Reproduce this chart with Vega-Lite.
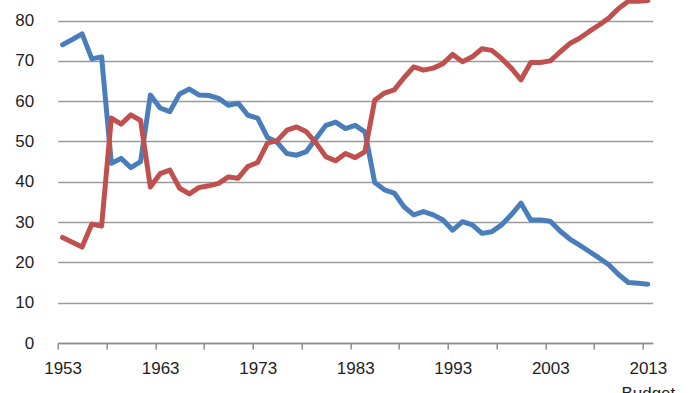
{
  "$schema": "https://vega.github.io/schema/vega-lite/v6.json",
  "width": 595,
  "height": 343,
  "autosize": {"type": "none"},
  "padding": {"left": 57.7, "top": 0, "right": 47.3, "bottom": 50},
  "background": "white",
  "config": {
    "view": {"stroke": null},
    "axis": {"labelFont": "Liberation Sans", "labelFontSize": 17, "labelColor": "#1e1e24"}
  },
  "data": {
    "values": [
      {"year": 1953, "series": "A", "value": 74.0}, {"year": 1954, "series": "A", "value": 75.3}, {"year": 1955, "series": "A", "value": 76.7},
      {"year": 1956, "series": "A", "value": 70.5}, {"year": 1957, "series": "A", "value": 71.0}, {"year": 1958, "series": "A", "value": 44.6},
      {"year": 1959, "series": "A", "value": 45.8}, {"year": 1960, "series": "A", "value": 43.5}, {"year": 1961, "series": "A", "value": 45.0},
      {"year": 1962, "series": "A", "value": 61.5}, {"year": 1963, "series": "A", "value": 58.3}, {"year": 1964, "series": "A", "value": 57.4},
      {"year": 1965, "series": "A", "value": 61.8}, {"year": 1966, "series": "A", "value": 63.0}, {"year": 1967, "series": "A", "value": 61.5},
      {"year": 1968, "series": "A", "value": 61.4}, {"year": 1969, "series": "A", "value": 60.7}, {"year": 1970, "series": "A", "value": 59.0},
      {"year": 1971, "series": "A", "value": 59.5}, {"year": 1972, "series": "A", "value": 56.5}, {"year": 1973, "series": "A", "value": 55.8},
      {"year": 1974, "series": "A", "value": 51.0}, {"year": 1975, "series": "A", "value": 49.8}, {"year": 1976, "series": "A", "value": 47.0},
      {"year": 1977, "series": "A", "value": 46.6}, {"year": 1978, "series": "A", "value": 47.5}, {"year": 1979, "series": "A", "value": 50.8},
      {"year": 1980, "series": "A", "value": 54.0}, {"year": 1981, "series": "A", "value": 54.8}, {"year": 1982, "series": "A", "value": 53.2},
      {"year": 1983, "series": "A", "value": 54.0}, {"year": 1984, "series": "A", "value": 52.4}, {"year": 1985, "series": "A", "value": 39.8},
      {"year": 1986, "series": "A", "value": 38.0}, {"year": 1987, "series": "A", "value": 37.2}, {"year": 1988, "series": "A", "value": 33.8},
      {"year": 1989, "series": "A", "value": 31.8}, {"year": 1990, "series": "A", "value": 32.6}, {"year": 1991, "series": "A", "value": 31.8},
      {"year": 1992, "series": "A", "value": 30.5}, {"year": 1993, "series": "A", "value": 28.0}, {"year": 1994, "series": "A", "value": 30.1},
      {"year": 1995, "series": "A", "value": 29.3}, {"year": 1996, "series": "A", "value": 27.2}, {"year": 1997, "series": "A", "value": 27.6},
      {"year": 1998, "series": "A", "value": 29.3}, {"year": 1999, "series": "A", "value": 31.8}, {"year": 2000, "series": "A", "value": 34.7},
      {"year": 2001, "series": "A", "value": 30.5}, {"year": 2002, "series": "A", "value": 30.5}, {"year": 2003, "series": "A", "value": 30.2},
      {"year": 2004, "series": "A", "value": 27.8}, {"year": 2005, "series": "A", "value": 25.8}, {"year": 2006, "series": "A", "value": 24.3},
      {"year": 2007, "series": "A", "value": 22.7}, {"year": 2008, "series": "A", "value": 21.1}, {"year": 2009, "series": "A", "value": 19.4},
      {"year": 2010, "series": "A", "value": 17.0}, {"year": 2011, "series": "A", "value": 15.0}, {"year": 2012, "series": "A", "value": 14.8},
      {"year": 2013, "series": "A", "value": 14.6},
      {"year": 1953, "series": "B", "value": 26.2}, {"year": 1954, "series": "B", "value": 25.0}, {"year": 1955, "series": "B", "value": 23.8},
      {"year": 1956, "series": "B", "value": 29.5}, {"year": 1957, "series": "B", "value": 29.0}, {"year": 1958, "series": "B", "value": 55.8},
      {"year": 1959, "series": "B", "value": 54.3}, {"year": 1960, "series": "B", "value": 56.6}, {"year": 1961, "series": "B", "value": 55.2},
      {"year": 1962, "series": "B", "value": 38.7}, {"year": 1963, "series": "B", "value": 42.0}, {"year": 1964, "series": "B", "value": 42.9},
      {"year": 1965, "series": "B", "value": 38.4}, {"year": 1966, "series": "B", "value": 37.0}, {"year": 1967, "series": "B", "value": 38.6},
      {"year": 1968, "series": "B", "value": 39.0}, {"year": 1969, "series": "B", "value": 39.6}, {"year": 1970, "series": "B", "value": 41.2},
      {"year": 1971, "series": "B", "value": 40.9}, {"year": 1972, "series": "B", "value": 43.8}, {"year": 1973, "series": "B", "value": 44.8},
      {"year": 1974, "series": "B", "value": 49.6}, {"year": 1975, "series": "B", "value": 50.2}, {"year": 1976, "series": "B", "value": 52.8},
      {"year": 1977, "series": "B", "value": 53.6}, {"year": 1978, "series": "B", "value": 52.4}, {"year": 1979, "series": "B", "value": 49.6},
      {"year": 1980, "series": "B", "value": 46.2}, {"year": 1981, "series": "B", "value": 45.2}, {"year": 1982, "series": "B", "value": 47.0},
      {"year": 1983, "series": "B", "value": 46.0}, {"year": 1984, "series": "B", "value": 47.5}, {"year": 1985, "series": "B", "value": 60.2},
      {"year": 1986, "series": "B", "value": 62.0}, {"year": 1987, "series": "B", "value": 62.8}, {"year": 1988, "series": "B", "value": 65.8},
      {"year": 1989, "series": "B", "value": 68.5}, {"year": 1990, "series": "B", "value": 67.7}, {"year": 1991, "series": "B", "value": 68.2},
      {"year": 1992, "series": "B", "value": 69.3}, {"year": 1993, "series": "B", "value": 71.6}, {"year": 1994, "series": "B", "value": 69.8},
      {"year": 1995, "series": "B", "value": 71.0}, {"year": 1996, "series": "B", "value": 73.0}, {"year": 1997, "series": "B", "value": 72.6},
      {"year": 1998, "series": "B", "value": 70.6}, {"year": 1999, "series": "B", "value": 68.2}, {"year": 2000, "series": "B", "value": 65.3},
      {"year": 2001, "series": "B", "value": 69.6}, {"year": 2002, "series": "B", "value": 69.6}, {"year": 2003, "series": "B", "value": 70.0},
      {"year": 2004, "series": "B", "value": 72.2}, {"year": 2005, "series": "B", "value": 74.3}, {"year": 2006, "series": "B", "value": 75.6},
      {"year": 2007, "series": "B", "value": 77.3}, {"year": 2008, "series": "B", "value": 78.9}, {"year": 2009, "series": "B", "value": 80.6},
      {"year": 2010, "series": "B", "value": 83.0}, {"year": 2011, "series": "B", "value": 84.8}, {"year": 2012, "series": "B", "value": 84.8},
      {"year": 2013, "series": "B", "value": 85.0}
    ]
  },
  "mark": {"type": "line", "strokeWidth": 5, "strokeJoin": "round", "strokeCap": "round", "clip": false},
  "encoding": {
    "x": {
      "field": "year",
      "type": "quantitative",
      "scale": {"domain": [1952.5, 2013.5], "nice": false, "zero": false},
      "axis": {
        "title": null,
        "grid": false,
        "values": [1952.5, 1957.5, 1962.5, 1967.5, 1972.5, 1977.5, 1982.5, 1987.5, 1992.5, 1997.5, 2002.5, 2007.5, 2012.5],
        "labelExpr": "(datum.value - 1952.5) % 10 == 0 ? (datum.value + 0.5 == 2013 ? ['2013', 'Budget'] : format(datum.value + 0.5, 'd')) : ''",
        "labelOffset": 4.9,
        "labelOverlap": false,
        "labelFlush": false,
        "labelBound": false,
        "labelPadding": 11,
        "labelLineHeight": 25,
        "domainColor": "#8c8c8c",
        "domainWidth": 1.5,
        "tickColor": "#8c8c8c",
        "tickWidth": 1.5,
        "tickSize": 6
      }
    },
    "y": {
      "field": "value",
      "type": "quantitative",
      "scale": {"domain": [0, 85.1], "nice": false},
      "axis": {
        "title": null,
        "values": [0, 10, 20, 30, 40, 50, 60, 70, 80],
        "grid": true,
        "gridColor": "#9a9a9a",
        "gridWidth": 1.5,
        "domain": false,
        "ticks": false,
        "labelPadding": 24,
        "labelFlush": false,
        "labelBound": false
      }
    },
    "color": {
      "field": "series",
      "type": "nominal",
      "scale": {"domain": ["A", "B"], "range": ["#4a7ebb", "#c0504d"]},
      "legend": null
    }
  }
}
